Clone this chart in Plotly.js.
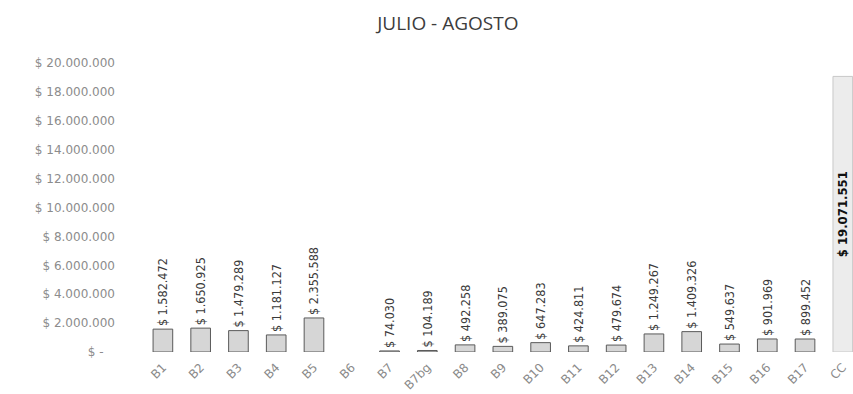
<!DOCTYPE html>
<html>
<head>
<meta charset="utf-8">
<script src="https://cdn.plot.ly/plotly-3.0.1.min.js"></script>
<style>
  html, body { margin: 0; padding: 0; background: #ffffff; }
  #chart { width: 853px; height: 394px; }
</style>
</head>
<body>
<div id="chart"></div>
<script>
// ---- data ----
const categories = ["B1","B2","B3","B4","B5","B6","B7","B7bg","B8","B9","B10","B11","B12","B13","B14","B15","B16","B17","CC"];
const values = [1582472, 1650925, 1479289, 1181127, 2355588, null, 74030, 104189, 492258, 389075, 647283, 424811, 479674, 1249267, 1409326, 549637, 901969, 899452, 19071551];
const yTickValues = [0, 2000000, 4000000, 6000000, 8000000, 10000000, 12000000, 14000000, 16000000, 18000000, 20000000];
const yTickLabels = ["$ -\u00a0\u00a0\u00a0", "$ 2.000.000", "$ 4.000.000", "$ 6.000.000", "$ 8.000.000", "$ 10.000.000", "$ 12.000.000", "$ 14.000.000", "$ 16.000.000", "$ 18.000.000", "$ 20.000.000"];
const titleText = "JULIO - AGOSTO";

// ---- formatting helpers ----
function fmt(v) {
  if (v === null || v === undefined) return "";
  return "$ " + String(v).replace(/\B(?=(\d{3})+(?!\d))/g, ".");
}
const lastIdx = categories.length - 1;
const texts = values.map(fmt);
const textPositions = values.map((v, i) => i === lastIdx ? "inside" : "outside");
const textColors = values.map((v, i) => i === lastIdx ? "#111111" : "#3a3a3a");
const textSizes = values.map((v, i) => i === lastIdx ? 13 : 12.5);
const textWeights = values.map((v, i) => i === lastIdx ? "bold" : "normal");
const barColors = values.map((v, i) => i === lastIdx ? "#ececec" : "#d6d6d6");
const lineColors = values.map((v, i) => i === lastIdx ? "#c8c8c8" : "#5a5a5a");

const trace = {
  type: "bar",
  x: categories,
  y: values,
  text: texts,
  textposition: textPositions,
  textangle: -90,
  insidetextanchor: "middle",
  constraintext: "none",
  cliponaxis: false,
  textfont: {
    family: "DejaVu Sans Condensed, DejaVu Sans, sans-serif",
    size: textSizes,
    color: textColors,
    weight: textWeights
  },
  marker: {
    color: barColors,
    line: { color: lineColors, width: 1 }
  },
  hoverinfo: "x+text"
};

const layout = {
  width: 853,
  height: 394,
  paper_bgcolor: "#ffffff",
  plot_bgcolor: "#ffffff",
  margin: { l: 144, r: 0, t: 63, b: 42, pad: 0 },
  showlegend: false,
  bargap: 0.48,
  title: {
    text: titleText,
    font: { family: "Open Sans, sans-serif", size: 19, color: "#3c3c3c" },
    x: 0.525, xref: "container", xanchor: "center",
    y: 0.94, yref: "container", yanchor: "middle"
  },
  xaxis: {
    type: "category",
    range: [-0.5, 18.27],
    tickangle: -45,
    showgrid: false,
    zeroline: false,
    showline: false,
    ticks: "",
    automargin: false,
    ticklabelstandoff: 5,
    tickfont: { family: "DejaVu Sans, sans-serif", size: 12, color: "#8a8a8a" }
  },
  yaxis: {
    range: [0, 20000000],
    tickmode: "array",
    tickvals: yTickValues,
    ticktext: yTickLabels,
    showgrid: false,
    zeroline: false,
    showline: false,
    ticks: "",
    automargin: false,
    ticklabelstandoff: 28,
    tickfont: { family: "DejaVu Sans, sans-serif", size: 12, color: "#8c8c8c" }
  }
};

Plotly.newPlot("chart", [trace], layout, { displayModeBar: false, staticPlot: true });
</script>
</body>
</html>
